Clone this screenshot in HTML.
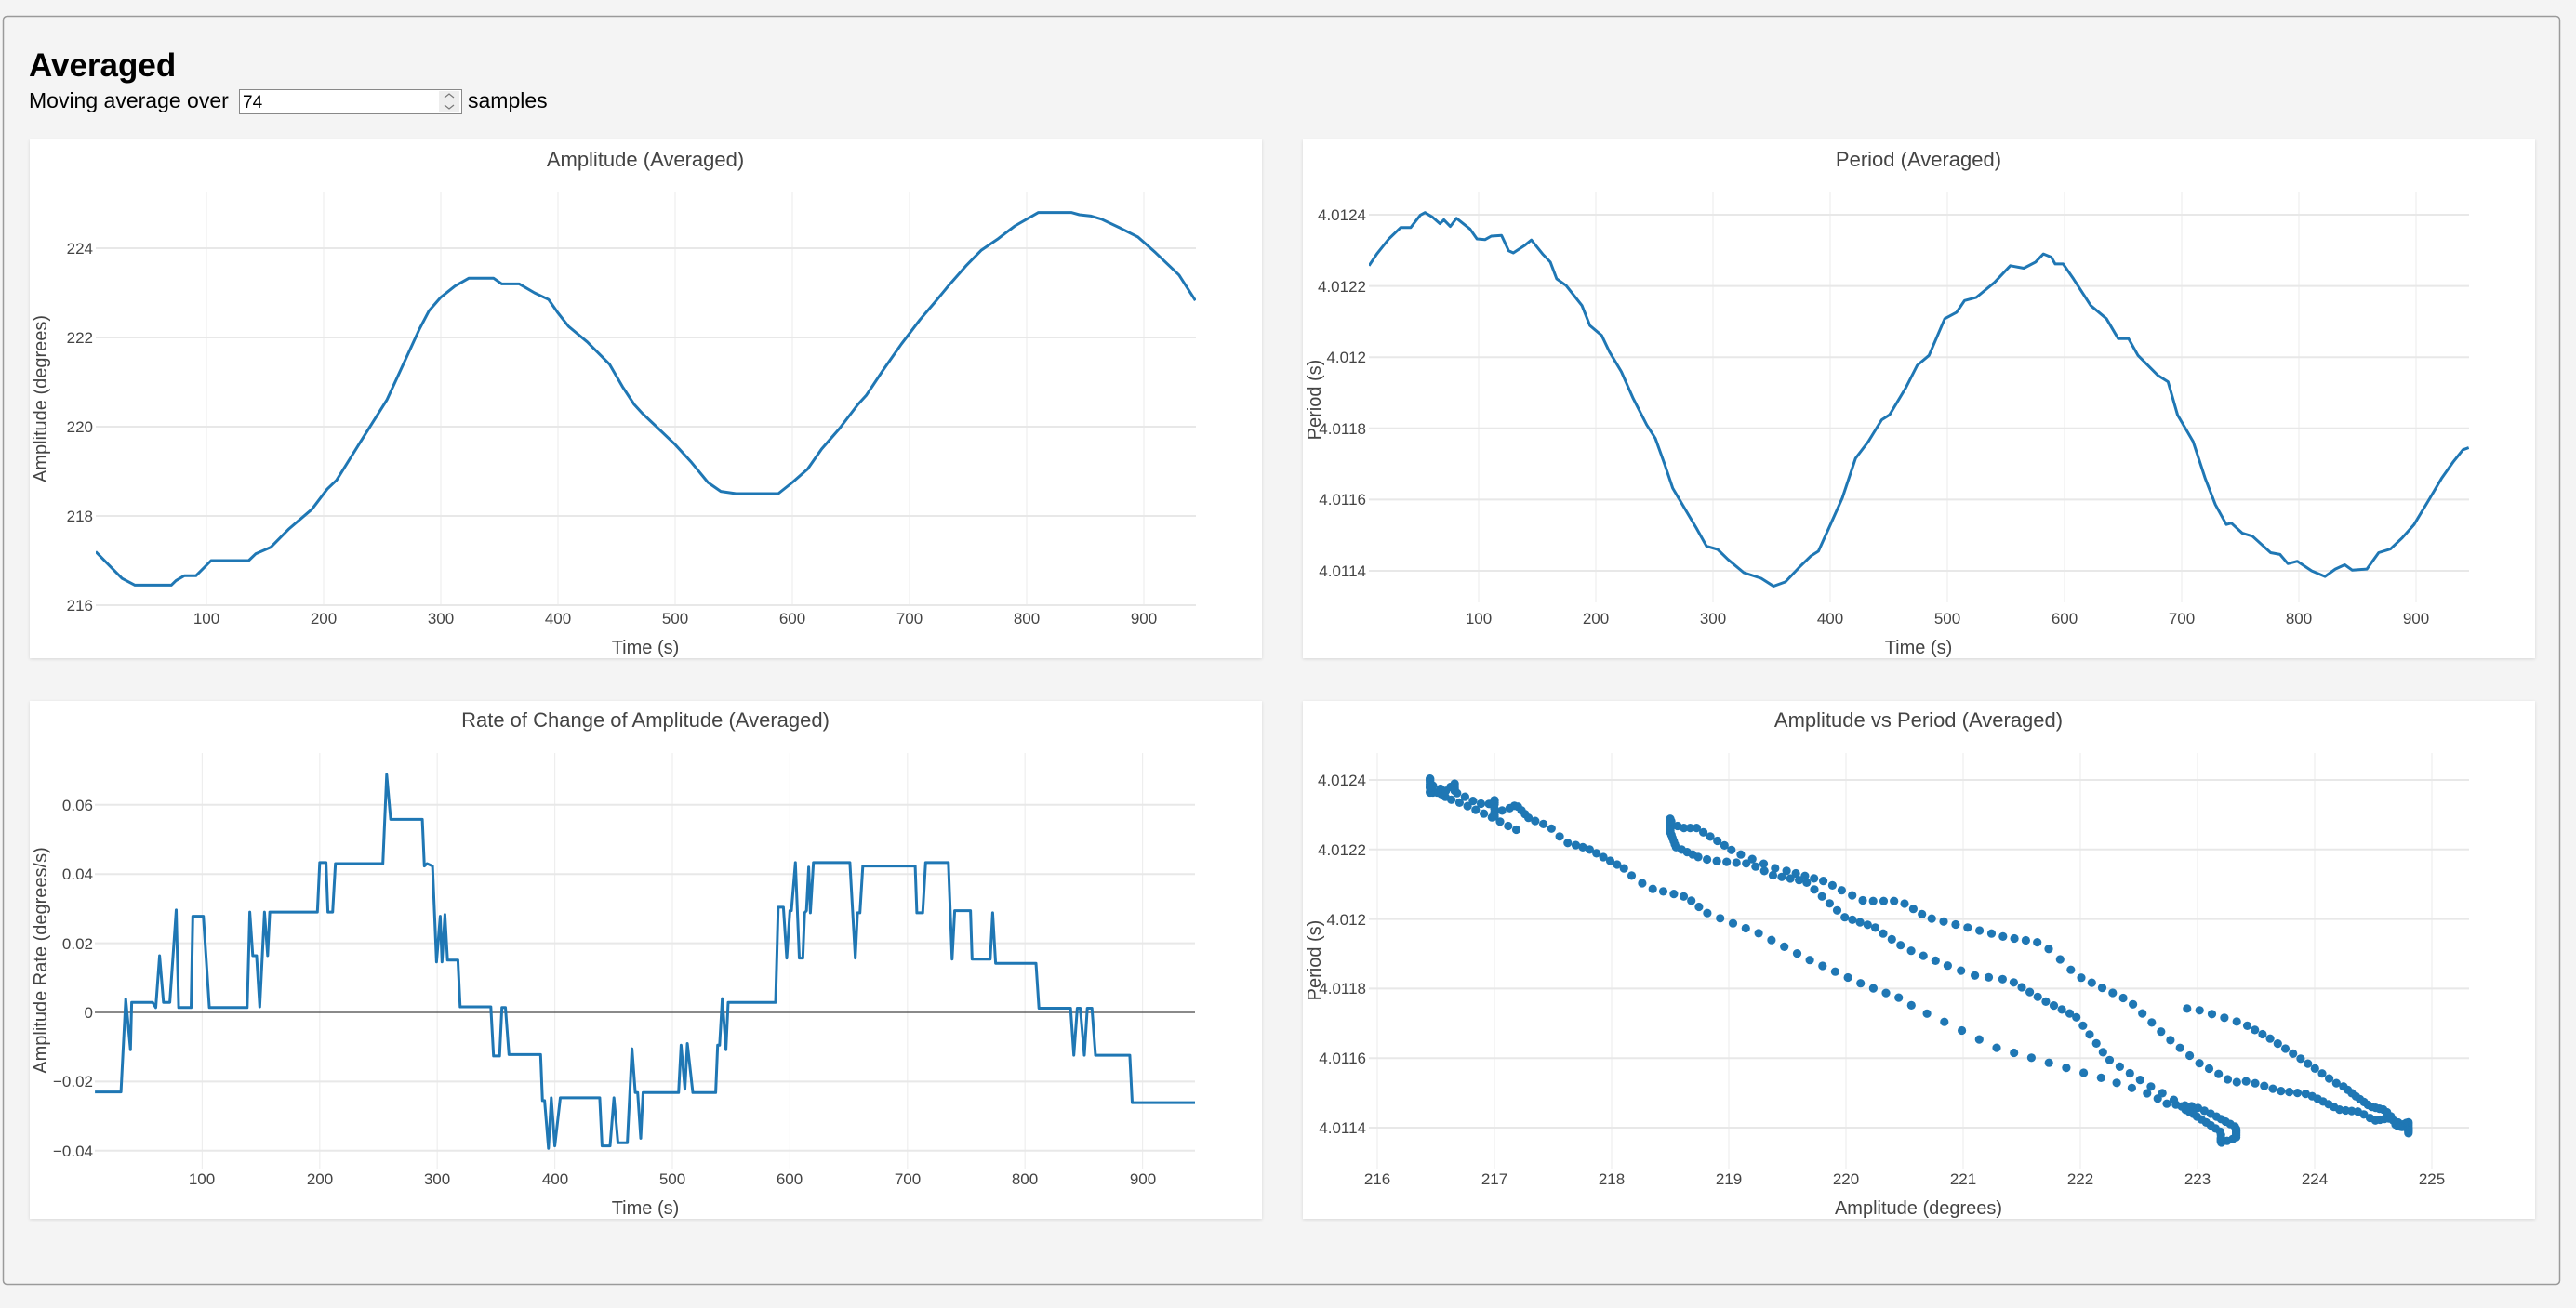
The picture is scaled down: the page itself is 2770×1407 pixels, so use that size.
<!DOCTYPE html>
<html><head><meta charset="utf-8">
<style>
html,body{margin:0;padding:0;background:#f4f4f4;width:2770px;height:1407px;overflow:hidden}
svg{position:absolute;left:0;top:0}
text{font-family:"Liberation Sans",Arial,sans-serif}
.tk{font-size:17px;fill:#444}
.tt{font-size:22px;fill:#444}
.at{font-size:20px;fill:#444}
</style></head><body>
<svg id="s" width="2770" height="1407" xmlns="http://www.w3.org/2000/svg">
<defs>
<filter id="sh" x="-2%" y="-2%" width="104%" height="104%"><feDropShadow dx="0" dy="1" stdDeviation="1.5" flood-color="#000" flood-opacity="0.12"/></filter>
<clipPath id="c1"><rect x="103" y="200" width="1183" height="455"/></clipPath>
<clipPath id="c2"><rect x="1472" y="200" width="1183" height="452"/></clipPath>
<clipPath id="c3"><rect x="102" y="805" width="1183" height="456"/></clipPath>
<clipPath id="c4"><rect x="1465" y="805" width="1195" height="456"/></clipPath>
</defs>
<rect x="3.5" y="17.5" width="2749" height="1364" rx="4" fill="#f4f4f4" stroke="#9a9a9a" stroke-width="1.5"/>
<text x="31" y="82" font-size="35" font-weight="bold" fill="#000">Averaged</text>
<text x="31" y="116" font-size="23" fill="#000">Moving average over</text>
<rect x="257.5" y="96.5" width="239" height="26" fill="#fff" stroke="#888" stroke-width="1"/>
<text x="261" y="116" font-size="19" fill="#000">74</text>
<rect x="472" y="98" width="22" height="23" fill="#eee"/>
<path d="M478 105 l5 -4 l5 4 M478 113 l5 4 l5 -4" stroke="#777" stroke-width="1.2" fill="none"/>
<text x="503" y="116" font-size="23" fill="#000">samples</text>

<rect x="32" y="150" width="1325" height="558" fill="#fff" filter="url(#sh)"/>
<rect x="1401" y="150" width="1325" height="558" fill="#fff" filter="url(#sh)"/>
<rect x="32" y="754" width="1325" height="557" fill="#fff" filter="url(#sh)"/>
<rect x="1401" y="754" width="1325" height="557" fill="#fff" filter="url(#sh)"/>
<g id="grid"></g>
<g id="data"></g>

<!-- Chart 1 -->
<text class="tt" x="694" y="179" text-anchor="middle">Amplitude (Averaged)</text>
<g class="tk" text-anchor="end">
<text x="100" y="273">224</text><text x="100" y="369">222</text><text x="100" y="465">220</text><text x="100" y="561">218</text><text x="100" y="657">216</text>
</g>
<g class="tk" text-anchor="middle">
<text x="222" y="671">100</text><text x="348" y="671">200</text><text x="474" y="671">300</text><text x="600" y="671">400</text><text x="726" y="671">500</text><text x="852" y="671">600</text><text x="978" y="671">700</text><text x="1104" y="671">800</text><text x="1230" y="671">900</text>
</g>
<text class="at" x="694" y="703" text-anchor="middle">Time (s)</text>
<text class="at" transform="translate(50,429) rotate(-90)" text-anchor="middle">Amplitude (degrees)</text>

<!-- Chart 2 -->
<text class="tt" x="2063" y="179" text-anchor="middle">Period (Averaged)</text>
<g class="tk" text-anchor="end">
<text x="1469" y="237">4.0124</text><text x="1469" y="314">4.0122</text><text x="1469" y="390">4.012</text><text x="1469" y="467">4.0118</text><text x="1469" y="543">4.0116</text><text x="1469" y="620">4.0114</text>
</g>
<g class="tk" text-anchor="middle">
<text x="1590" y="671">100</text><text x="1716" y="671">200</text><text x="1842" y="671">300</text><text x="1968" y="671">400</text><text x="2094" y="671">500</text><text x="2220" y="671">600</text><text x="2346" y="671">700</text><text x="2472" y="671">800</text><text x="2598" y="671">900</text>
</g>
<text class="at" x="2063" y="703" text-anchor="middle">Time (s)</text>
<text class="at" transform="translate(1420,430) rotate(-90)" text-anchor="middle">Period (s)</text>

<!-- Chart 3 -->
<text class="tt" x="694" y="782" text-anchor="middle">Rate of Change of Amplitude (Averaged)</text>
<g class="tk" text-anchor="end">
<text x="100" y="872">0.06</text><text x="100" y="946">0.04</text><text x="100" y="1021">0.02</text><text x="100" y="1095">0</text><text x="100" y="1169">−0.02</text><text x="100" y="1244">−0.04</text>
</g>
<g class="tk" text-anchor="middle">
<text x="217" y="1274">100</text><text x="344" y="1274">200</text><text x="470" y="1274">300</text><text x="597" y="1274">400</text><text x="723" y="1274">500</text><text x="849" y="1274">600</text><text x="976" y="1274">700</text><text x="1102" y="1274">800</text><text x="1229" y="1274">900</text>
</g>
<text class="at" x="694" y="1306" text-anchor="middle">Time (s)</text>
<text class="at" transform="translate(50,1033) rotate(-90)" text-anchor="middle">Amplitude Rate (degrees/s)</text>

<!-- Chart 4 -->
<text class="tt" x="2063" y="782" text-anchor="middle">Amplitude vs Period (Averaged)</text>
<g class="tk" text-anchor="end">
<text x="1469" y="845">4.0124</text><text x="1469" y="920">4.0122</text><text x="1469" y="995">4.012</text><text x="1469" y="1069">4.0118</text><text x="1469" y="1144">4.0116</text><text x="1469" y="1219">4.0114</text>
</g>
<g class="tk" text-anchor="middle">
<text x="1481" y="1274">216</text><text x="1607" y="1274">217</text><text x="1733" y="1274">218</text><text x="1859" y="1274">219</text><text x="1985" y="1274">220</text><text x="2111" y="1274">221</text><text x="2237" y="1274">222</text><text x="2363" y="1274">223</text><text x="2489" y="1274">224</text><text x="2615" y="1274">225</text>
</g>
<text class="at" x="2063" y="1306" text-anchor="middle">Amplitude (degrees)</text>
<text class="at" transform="translate(1420,1033) rotate(-90)" text-anchor="middle">Period (s)</text>
</svg>
<script>
var NS="http://www.w3.org/2000/svg";
var grid=document.getElementById('grid'),dat=document.getElementById('data');
function el(p,tag,a){var e=document.createElementNS(NS,tag);for(var k in a)e.setAttribute(k,a[k]);p.appendChild(e);return e;}
function vl(xs,y1,y2){xs.forEach(function(x){el(grid,'line',{x1:x,x2:x,y1:y1,y2:y2,stroke:'#eeeeee','stroke-width':1.2});});}
function hl(ys,x1,x2){ys.forEach(function(y){el(grid,'line',{x1:x1,x2:x2,y1:y,y2:y,stroke:'#e8e8e8','stroke-width':2});});}
var i,a=[];
for(i=1;i<=9;i++)a.push(96+126*i);vl(a,206,651);hl([267,363,459,555,651],103,1286);
a=[];for(i=1;i<=9;i++)a.push(1464+126*i);vl(a,207,648);hl([614,537.4,460.8,384.2,307.6,231],1472,2655);
a=[];for(i=1;i<=9;i++)a.push(91+126.4*i);vl(a,810,1257);hl([1237.8,1163.4,1014.6,940.2,865.8],102,1285);
el(grid,'line',{x1:102,x2:1285,y1:1089,y2:1089,stroke:'#444','stroke-width':1.3});
a=[];for(i=0;i<=9;i++)a.push(1481+126*i);vl(a,810,1257);hl([1213,1138.2,1063.4,988.6,913.8,839],1472,2655);

var AMP=[[5.5,217.2],[28,216.6],[39,216.45],[70,216.45],[74,216.55],[81,216.66],[91,216.66],[104,217.0],[136,217.0],[142,217.15],[155,217.3],[170,217.7],[190,218.15],[203,218.6],[211,218.8],[230,219.6],[254,220.6],[268,221.4],[282,222.2],[290,222.6],[300,222.9],[312,223.15],[324,223.33],[345,223.33],[352,223.2],[367,223.2],[380,223.0],[392,222.85],[400,222.55],[409,222.25],[425,221.9],[444,221.4],[455,220.9],[465,220.5],[472,220.3],[486,219.95],[500,219.6],[514,219.2],[528,218.75],[539,218.55],[552,218.5],[588,218.5],[600,218.75],[613,219.05],[625,219.5],[640,219.95],[656,220.5],[663,220.7],[677,221.25],[693,221.85],[709,222.4],[722,222.8],[733,223.15],[748,223.6],[761,223.95],[775,224.2],[790,224.5],[810,224.8],[838,224.8],[845,224.75],[855,224.72],[864,224.65],[880,224.45],[895,224.25],[910,223.9],[930,223.4],[944,222.83]];
var PER=[[6.4,8.57],[13.2,8.9],[23.3,9.32],[33.4,9.64],[42,9.64],[50.2,9.99],[54.2,10.06],[60.3,9.94],[67,9.75],[70.3,9.86],[75.8,9.67],[81.1,9.9],[92.6,9.6],[98.6,9.32],[105.4,9.3],[110.8,9.4],[119.5,9.42],[125.6,8.99],[129.6,8.93],[139,9.13],[145,9.29],[154.5,8.9],[161.2,8.67],[166.6,8.2],[174.7,8.01],[188.2,7.45],[194.9,6.89],[205,6.61],[211.7,6.15],[221.8,5.59],[231.9,4.84],[243.4,4.1],[250.8,3.72],[258.9,2.98],[265.6,2.32],[275.7,1.76],[285.8,1.2],[294.5,0.69],[304,0.6],[312.7,0.32],[326.2,-0.05],[341,-0.21],[351.7,-0.43],[361.8,-0.31],[373.3,0.09],[383.3,0.41],[390,0.55],[400.2,1.3],[410.3,2.04],[421.7,3.16],[432.5,3.63],[444,4.24],[450.7,4.38],[464.2,5.12],[474.3,5.77],[484.4,6.05],[497.8,7.08],[507.9,7.26],[514.7,7.59],[524.8,7.68],[540.2,8.1],[553.7,8.57],[565.2,8.5],[575.2,8.67],[582,8.9],[588.7,8.81],[592,8.62],[598.8,8.62],[607.6,8.2],[622.4,7.45],[635.8,7.08],[645.9,6.52],[654.7,6.52],[662.7,6.05],[679.6,5.49],[688.3,5.31],[696.4,4.38],[709.8,3.63],[720,2.6],[728.7,1.86],[738.1,1.3],[742.4,1.34],[751.6,1.06],[760.4,0.97],[775.9,0.51],[783.9,0.46],[790.6,0.2],[798.7,0.27],[810.9,0],[822.3,-0.16],[831.1,0.05],[839.1,0.17],[845.5,0.02],[858,0.05],[868.1,0.51],[878.2,0.61],[888.3,0.93],[898.3,1.3],[911.8,2.04],[921.9,2.6],[932,3.07],[940,3.4],[945,3.46]];
var RATE=[[8.8,-2.3],[30.9,-2.3],[35,0.39],[39,-1.08],[40,0.29],[57.8,0.29],[60.5,0.14],[63.8,1.64],[67.1,0.29],[72.5,0.29],[77.9,2.96],[80,0.14],[90.6,0.14],[92,2.78],[101,2.78],[106.1,0.14],[138.3,0.14],[140.5,2.9],[143,1.64],[146.3,1.64],[149,0.16],[153,2.9],[155.7,1.64],[157.5,2.9],[198,2.9],[200,4.33],[205.4,4.33],[207,2.9],[211,2.9],[213.4,4.3],[253.7,4.3],[257,6.88],[260.4,5.58],[287.3,5.58],[289,4.23],[291.3,4.3],[296,4.23],[299.4,1.46],[302.5,2.78],[304,1.46],[306.5,2.83],[308.7,1.51],[317.6,1.51],[319.5,0.16],[345.6,0.16],[347.9,-1.26],[353,-1.26],[355,0.14],[358,0.14],[361,-1.22],[387.9,-1.22],[389.5,-2.55],[391.3,-2.55],[394.6,-3.93],[397,-2.47],[400,-3.86],[404.7,-2.47],[438.2,-2.47],[440.2,-3.86],[447,-3.86],[450.3,-2.47],[453.7,-3.77],[461.7,-3.77],[465.7,-1.05],[468.4,-2.32],[470.5,-2.32],[473.1,-3.64],[475.1,-2.32],[505.3,-2.32],[507.4,-0.95],[510.7,-2.22],[512.7,-0.9],[517.4,-2.32],[536.9,-2.32],[538.5,-0.95],[540.2,-0.95],[542.5,0.4],[545.6,-1.08],[547.5,0.29],[587.8,0.29],[590,3.04],[594.5,3.04],[597.3,1.57],[600,2.94],[601.3,2.94],[604.7,4.33],[608,1.57],[611,1.57],[612.5,2.88],[614.1,2.94],[616,4.2],[617.4,2.88],[620,4.33],[651,4.33],[655.6,1.57],[657.5,2.88],[659.6,2.88],[662,4.23],[706.6,4.23],[708,2.88],[713,2.88],[715.4,4.33],[734.8,4.33],[738,1.54],[740.2,2.94],[753.6,2.94],[755,1.54],[770.4,1.54],[772.5,2.88],[775,1.42],[809.3,1.42],[811.9,0.12],[838.8,0.12],[841.5,-1.24],[844.5,0.12],[847,0.12],[850.5,-1.24],[853,0.12],[857,0.12],[860,-1.24],[889.2,-1.24],[891.2,-2.61],[944.8,-2.61]];
function path(pts,fx,fy){return pts.map(function(p,i){return (i?'L':'M')+fx(p[0]).toFixed(1)+' '+fy(p[1]).toFixed(1);}).join(' ');}
var C='#1f77b4';
el(dat,'path',{d:path(AMP,function(t){return 96+1.26*t},function(v){return 651-48*(v-216)}),fill:'none',stroke:C,'stroke-width':3,'stroke-linejoin':'round','clip-path':'url(#c1)'});
el(dat,'path',{d:path(PER,function(t){return 1464+1.26*t},function(q){return 614-38.3*q}),fill:'none',stroke:C,'stroke-width':3,'stroke-linejoin':'round','clip-path':'url(#c2)'});
el(dat,'path',{d:path(RATE,function(t){return 91+1.264*t},function(r){return 1089-37.2*r}),fill:'none',stroke:C,'stroke-width':3,'stroke-linejoin':'round','clip-path':'url(#c3)'});
function interp(arr,t){if(t<=arr[0][0])return arr[0][1];for(var i=1;i<arr.length;i++){if(t<=arr[i][0]){var a=arr[i-1],b=arr[i];return a[1]+(b[1]-a[1])*(t-a[0])/(b[0]-a[0]);}}return arr[arr.length-1][1];}
var g4=el(dat,'g',{fill:C,'clip-path':'url(#c4)'});
for(var t=6;t<=944;t+=2.6){var A=interp(AMP,t),q=interp(PER,t);el(g4,'circle',{cx:(1481+126*(A-216)).toFixed(1),cy:(1213-37.4*q).toFixed(1),r:4.6});}
</script>
</body></html>
